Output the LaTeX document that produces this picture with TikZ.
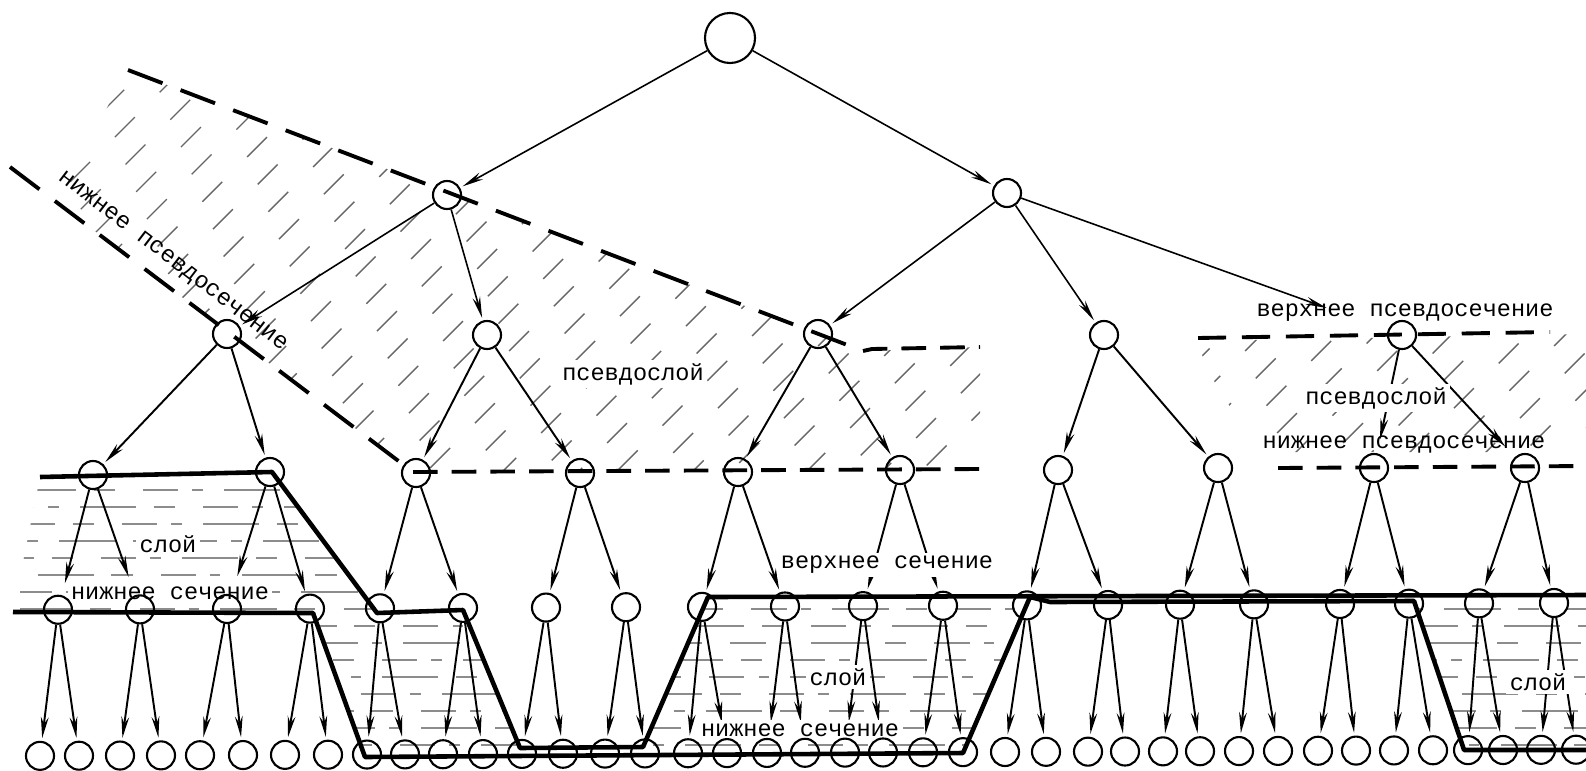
\documentclass[tikz,border=0pt]{standalone}
\usepackage{fontspec}
\newfontfamily\labfont{Liberation Mono}
\usetikzlibrary{arrows.meta}
\pgfdeclarelayer{hatching}
\pgfdeclarelayer{arrows}
\pgfdeclarelayer{texts}
\pgfsetlayers{hatching,arrows,texts,main}
\begin{document}
\begin{tikzpicture}[x=0.01cm,y=-0.01cm,
  vert/.style={draw,circle,line width=0.6pt,minimum size=0.28cm,inner sep=0pt},
  rootv/.style={vert,minimum size=0.5cm},
  edge/.style={-{Stealth[length=6pt,width=2.2pt]},line width=0.55pt,shorten >=0.8pt},
  topedge/.style={edge,line width=0.45pt},
  cutline/.style={line width=1.3pt,line join=round},
  pcut/.style={line width=1.1pt,dash pattern=on 10.5pt off 5.5pt},
  pcuth/.style={line width=1.1pt,dash pattern=on 7pt off 4pt},
  lab/.style={font={\labfont\fontsize{6.7pt}{8pt}\selectfont},inner sep=1pt},
  labw/.style={lab,fill=white},
  phatch/.style={line width=0.4pt,black!60,dash pattern=on 8pt off 10pt},
  lhatch/.style={line width=0.35pt,black!45,dash pattern=on 10pt off 4pt on 3pt off 6pt on 16pt off 5pt on 6pt off 8pt},
]
\useasboundingbox (0,0) rectangle (1586,770);

% ---------- vertices of the tree ----------
\node[rootv] (r) at (730,38) {};
\node[vert] (a1) at (447,195) {};
\node[vert] (a2) at (1007,193) {};
\foreach \x/\y [count=\i] in {227/334,487/335,818/334,1104/335,1402/335}
  \node[vert] (b\i) at (\x,\y) {};
\foreach \x/\y [count=\i] in {93/475,270/472,416/473,580/473,738/472,900/470,1058/470,1218/468,1374/468,1525/468}
  \node[vert] (c\i) at (\x,\y) {};
\foreach \x [count=\i] in {58,140,227,310,380,463,546,626,702,785,863,943,1027,1108,1180,1254,1340,1409,1479,1554}
  \node[vert] (d\i) at (\x,{610-0.0045*\x}) {};
\foreach \x [count=\i] in {40,79,120,161,200,243,285,328,367,405,443,483,522,563,605,645,688,727,767,805,845,883,923,963,1005,1046,1088,1125,1163,1200,1239,1278,1318,1356,1394,1433,1468,1503,1541,1576}
  \node[vert] (e\i) at (\x,{756-0.004*\x}) {};

% ---------- arcs ----------
\begin{pgfonlayer}{arrows}
\draw[topedge] (r) -- (a1);
\draw[topedge] (r) -- (a2);
\draw[topedge] (a1) -- (b1);
\draw[topedge] (a1) -- (b2);
\draw[topedge] (a2) -- (b3);
\draw[topedge] (a2) -- (b4);
\draw[topedge,shorten >=0.65cm] (a2) -- (b5);
\foreach \p/\q in {1/1,1/2,2/3,2/4,3/5,3/6,4/7,4/8}
  \draw[edge] (b\p) -- (c\q);
\draw[edge,shorten >=4pt] (b5) -- (c9);
\draw[edge,shorten >=4pt] (b5) -- (c10);
\foreach \i in {1,...,10} {
  \pgfmathtruncatemacro\a{2*\i-1}
  \pgfmathtruncatemacro\b{2*\i}
  \pgfmathsetmacro\sa{(\a==1) ? 3.5 : ((\a==3) ? 5.5 : 0.8)}
  \pgfmathsetmacro\sb{(\b==2) ? 5.5 : 0.8}
  \draw[edge,shorten >=\sa pt] (c\i) -- (d\a);
  \draw[edge,shorten >=\sb pt] (c\i) -- (d\b);
}
\foreach \i in {1,...,20} {
  \pgfmathtruncatemacro\a{2*\i-1}
  \pgfmathtruncatemacro\b{2*\i}
  \pgfmathsetmacro\sa{(\a>=18 && \a<=22) ? 4.5 : 0.8}
  \pgfmathsetmacro\sb{(\b>=18 && \b<=22) ? 4.5 : 0.8}
  \draw[edge,shorten >=\sa pt] (d\i) -- (e\a);
  \draw[edge,shorten >=\sb pt] (d\i) -- (e\b);
}
\end{pgfonlayer}

% ---------- hatching of the pseudo-layers and layers ----------
\begin{pgfonlayer}{hatching}
\begin{scope}
  \clip (128,70) -- (863,351) -- (980,347) -- (980,469) -- (413,472) -- (55,201) -- cycle;
  \foreach \k in {0,...,36} {
    \pgfmathsetmacro\ph{mod(\k*11,18)}
    \draw[phatch,dash phase=\ph pt] ({\k*38-420},520) -- ++(520,-520);
  }
\end{scope}
\begin{scope}
  \clip (1198,341) -- (1586,334) -- (1586,452) -- (1258,452) -- (1206,368) -- cycle;
  \foreach \k in {0,...,16} {
    \pgfmathsetmacro\ph{mod(\k*11,18)}
    \draw[phatch,dash phase=\ph pt] ({1000+\k*38},520) -- ++(520,-520);
  }
\end{scope}
\begin{scope}
  \clip (40,477) -- (272,472) -- (377,613) -- (463,610) -- (520,748) -- (643,747)
     -- (708,597) -- (1586,595) -- (1586,750) -- (1464,750) -- (1414,601)
     -- (1050,602) -- (1030,597) -- (963,753) -- (365,757) -- (313,613)
     -- (13,612) -- cycle;
  \foreach \y [count=\i] in {490,507,...,745} {
    \pgfmathsetmacro\ph{mod(\i*23,40)}
    \draw[lhatch,dash phase=\ph pt] (20,\y) -- (1586,\y);
  }
\end{scope}
\end{pgfonlayer}

% ---------- sections (heavy) and pseudo-sections (dashed) ----------
\draw[cutline] (40,477) -- (272,472) -- (377,613) -- (463,610) -- (520,748)
  -- (643,747) -- (708,597) -- (1586,595);
\draw[cutline] (13,612) -- (313,613) -- (365,757) -- (963,753) -- (1030,597)
  -- (1050,602) -- (1414,601) -- (1464,750) -- (1586,750);
\draw[pcut] (128,70) -- (863,351);
\draw[pcuth] (863,351) -- (872,349) -- (980,347);
\draw[pcut] (10,167) -- (413,472);
\draw[pcuth] (413,472) -- (980,469);
\draw[pcuth,dash pattern=on 8pt off 4.5pt] (1198,338) -- (1550,332);
\draw[pcuth] (1278,468) -- (1586,466);

% ---------- labels ----------
\begin{pgfonlayer}{texts}
\node[labw] (t1) at (633,374) {псевдослой};
\node[lab,rotate=-37.4] (t2) at (172,262) {нижнее псевдосечение};
\node[labw] (t3) at (168,544) {слой};
\node[labw] (t4) at (170,593) {нижнее сечение};
\node[labw] (t5) at (887,565) {верхнее сечение};
\node[labw] (t6) at (838,677) {слой};
\node[labw] (t7) at (800,730) {нижнее сечение};
\node[labw] (t8) at (1538,682) {слой};
\node[lab] (t9) at (1405,313) {верхнее псевдосечение};
\node[labw] (t10) at (1376,398) {псевдослой};
\node[lab] (t11) at (1404,445) {нижнее псевдосечение};
\end{pgfonlayer}
\end{tikzpicture}
\end{document}
